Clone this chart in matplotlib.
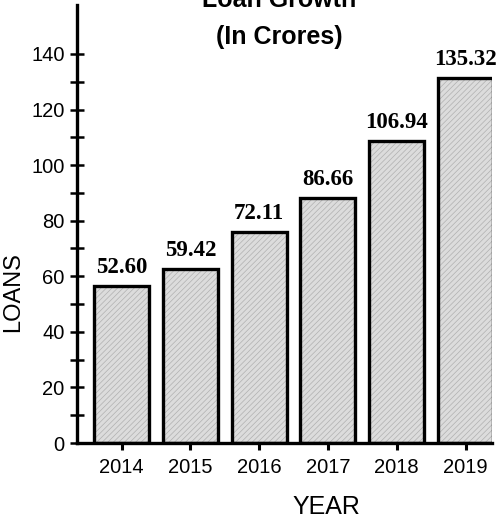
import matplotlib
matplotlib.use('Agg')
import matplotlib.pyplot as plt


years = ['2014', '2015', '2016', '2017', '2018', '2019']
bar_heights = [56.5, 62.6, 75.9, 88.2, 108.7, 131.3]   # bar tops as drawn
loan_labels = ['52.60', '59.42', '72.11', '86.66', '106.94', '135.32']

tick_font = 'Liberation Sans'
plt.rcParams['hatch.linewidth'] = 0.5

fig = plt.figure(figsize=(4.97, 5.21), dpi=100)
ax = fig.add_axes([0.155, 0.1497, 0.835, 0.8407])

x = list(range(len(years)))
ax.bar(x, bar_heights, width=0.8, color='#dcdcdc', edgecolor='#b0b0b0',
       hatch='//////', linewidth=0, zorder=2)
ax.bar(x, bar_heights, width=0.8, facecolor='none', edgecolor='black',
       linewidth=2.4, zorder=3)

for xi, h, lab in zip(x, bar_heights, loan_labels):
    ax.annotate(lab, (xi, h), textcoords='offset points', xytext=(0, 6),
                ha='center', va='bottom', fontsize=16.5, fontweight='bold',
                family='Liberation Serif')

ax.set_xlim(-0.647, 5.385)
ax.set_ylim(0, 157.6)

for s in ['top', 'right']:
    ax.spines[s].set_visible(False)
for s in ['left', 'bottom']:
    ax.spines[s].set_linewidth(2.4)

ax.set_xticks(x)
ax.set_xticklabels(years, family=tick_font, fontsize=14.5)
ax.set_yticks(range(0, 141, 20))
ax.set_yticks(range(10, 140, 20), minor=True)
for t in ax.get_yticklabels():
    t.set_family(tick_font)
    t.set_fontsize(14.5)
ax.tick_params(axis='y', which='both', direction='inout', width=1.8, pad=4)
ax.tick_params(axis='y', which='major', length=10)
ax.tick_params(axis='y', which='minor', length=9.5)
ax.tick_params(axis='x', direction='out', length=5, width=2.2, pad=5.5)

ax.set_xlabel('YEAR', fontsize=18, family='Liberation Sans')
ax.xaxis.set_label_coords(0.602, -0.119)
ax.set_ylabel('LOANS', fontsize=17, family='Liberation Sans')
ax.yaxis.set_label_coords(-0.128, 0.345)

fig.text(0.561, 1 - 7 / 521, 'Loan Growth', ha='center', va='baseline',
         fontsize=18, fontweight='bold', family='Liberation Sans')
fig.text(0.561, 1 - 44 / 521, '(In Crores)', ha='center', va='baseline',
         fontsize=18, fontweight='bold', family='Liberation Sans')

fig.savefig('out.png', dpi=100)
